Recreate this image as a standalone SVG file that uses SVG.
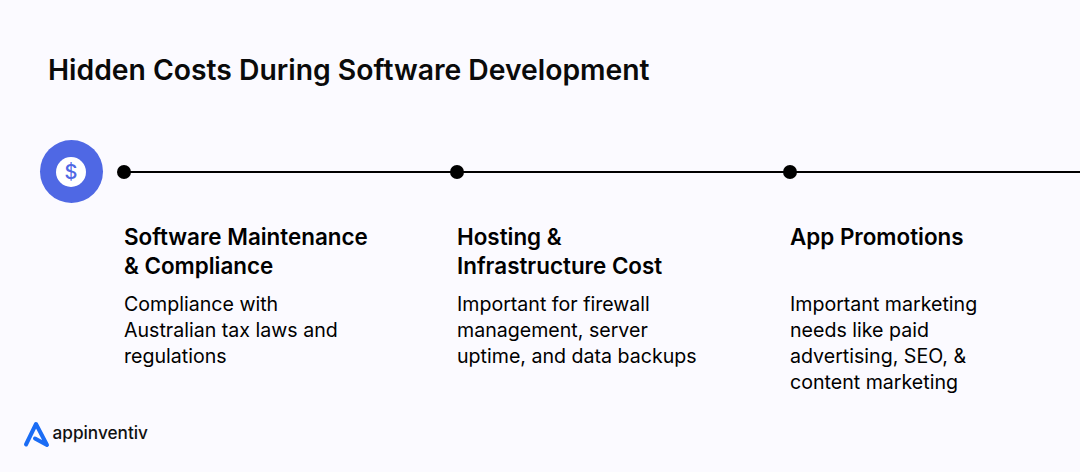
<svg xmlns="http://www.w3.org/2000/svg" width="1080" height="472" viewBox="0 0 1080 472">
<style>
text{font-family:Inter,"Liberation Sans",sans-serif;fill:#000}
.title{font-size:28.300px;font-weight:600;fill:#0a0a0a}
.h{font-size:22.400px;font-weight:600}
.b{font-size:19.600px;font-weight:400}
.dot{fill:#000}
</style>
<rect width="1080" height="472" fill="#fbfaff"/>
<text id="title" class="title" x="48" y="79.500">Hidden Costs During Software Development</text>
<g id="connectors"><line x1="124" y1="172" x2="1080" y2="172" stroke="#000" stroke-width="2"/></g>
<g id="icon">
<circle cx="71.500" cy="171.500" r="31.500" fill="#4f68e4"/>
<circle cx="71" cy="172" r="15" fill="#fff"/>
<text x="71" y="179" text-anchor="middle" style="font-size:20px;font-weight:500;fill:#4f68e4">$</text>
</g>
<g id="node1">
<circle class="dot" cx="124" cy="172" r="7"/>
<text class="h" x="124" y="244.500">Software Maintenance</text>
<text class="h" x="124" y="273.500">&amp; Compliance</text>
<text class="b" x="124" y="311">Compliance with</text>
<text class="b" x="124" y="337">Australian tax laws and</text>
<text class="b" x="124" y="363">regulations</text>
</g>
<g id="node2">
<circle class="dot" cx="457" cy="172" r="7"/>
<text class="h" x="457" y="244.500">Hosting &amp;</text>
<text class="h" x="457" y="273.500">Infrastructure Cost</text>
<text class="b" x="457" y="311">Important for firewall</text>
<text class="b" x="457" y="337">management, server</text>
<text class="b" x="457" y="363">uptime, and data backups</text>
</g>
<g id="node3">
<circle class="dot" cx="790" cy="172" r="7"/>
<text class="h" x="790" y="244.500">App Promotions</text>
<text class="b" x="790" y="311">Important marketing</text>
<text class="b" x="790" y="337">needs like paid</text>
<text class="b" x="790" y="363">advertising, SEO, &amp;</text>
<text class="b" x="790" y="389">content marketing</text>
</g>
<g id="logo">
<path d="M26 444.500L36 424L47 445L35 438.500" fill="none" stroke="#1a6cf5" stroke-width="4" stroke-linejoin="round" stroke-linecap="round"/>
<text x="52.500" y="438.800" style="font-size:17.200px;font-weight:500;fill:#111">appinventiv</text>
</g>
</svg>
